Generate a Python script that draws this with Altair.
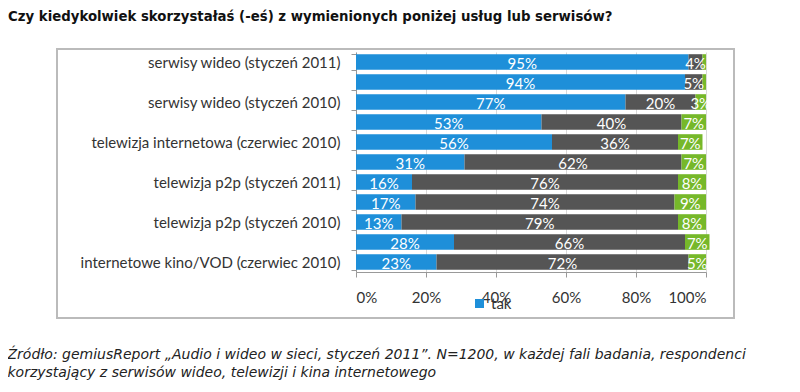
import altair as alt
import pandas as pd

labels = [
    "serwisy wideo (styczeń 2011)", "",
    "serwisy wideo (styczeń 2010)", "",
    "telewizja internetowa (czerwiec 2010)", "",
    "telewizja p2p (styczeń 2011)", "",
    "telewizja p2p (styczeń 2010)", "",
    "internetowe kino/VOD (czerwiec 2010)",
]
tak = [95, 94, 77, 53, 56, 31, 16, 17, 13, 28, 23]
nie = [4, 5, 20, 40, 36, 62, 76, 74, 79, 66, 72]
nie_wiem = [1, 1, 3, 7, 7, 7, 8, 9, 8, 7, 5]
series = ["tak", "nie", "nie wiem"]
colors = ["#1E8FD9", "#555555", "#76B82A"]
x_ticks = [0, 20, 40, 60, 80, 100]

rows = []
for i in range(len(labels)):
    for k, (name, vals) in enumerate(zip(series, [tak, nie, nie_wiem])):
        rows.append({"row": i, "seria": name, "ord": k, "v": vals[i]})
df = pd.DataFrame(rows)

label_js = "[" + ",".join("'" + s + "'" for s in labels) + "]"

base = alt.Chart(df).transform_stack(
    stack="v", groupby=["row"], sort=[alt.SortField("ord")], as_=["x0", "x1"]
).transform_calculate(mid="(datum.x0 + datum.x1) / 2")

y_enc = alt.Y(
    "row:O",
    title=None,
    scale=alt.Scale(paddingInner=0.22, paddingOuter=0.11),
    axis=alt.Axis(
        labelExpr=label_js + "[datum.value]",
        labelFont="Lato", labelFontSize=15, labelColor="#333333", labelLimit=400,
        tickBand="extent", tickSize=5, tickColor="#999999",
        domainColor="#999999", labelPadding=11, grid=False,
    ),
)

bars = base.mark_bar().encode(
    y=y_enc,
    x=alt.X(
        "x0:Q",
        scale=alt.Scale(domain=[0, 100], nice=False),
        axis=alt.Axis(
            values=x_ticks,
            labelExpr="datum.value + '%'",
            labelFont="Lato", labelFontSize=15, labelColor="#333333",
            tickSize=5, tickColor="#999999", domainColor="#999999",
            labelPadding=13, gridColor="#d9d9d9",
            title=["Źródło: gemiusReport „Audio i wideo w sieci, styczeń 2011”. N=1200, w każdej fali badania, respondenci",
                   "korzystający z serwisów wideo, telewizji i kina internetowego"],
            titleX=-349, titleY=75, titleAlign="left", titleBaseline="top",
            titleFont="DejaVu Sans", titleFontSize=14, titleFontStyle="italic",
            titleFontWeight="normal", titleColor="#222222", titleLineHeight=18,
        ),
    ),
    x2="x1:Q",
    color=alt.Color(
        "seria:N",
        scale=alt.Scale(domain=series, range=colors),
        legend=alt.Legend(
            values=["tak"], title=None, orient="none", legendX=116, legendY=244,
            symbolType="square", symbolSize=81, symbolStrokeWidth=0,
            labelFont="Lato", labelFontSize=15, labelColor="#333333", labelOffset=4,
        ),
    ),
)

text = base.transform_filter("datum.v >= 3").mark_text(
    color="white", font="Lato", fontSize=15, baseline="middle", dy=2
).encode(
    y=alt.Y("row:O"),
    x=alt.X("mid:Q"),
    text=alt.Text("label:N"),
).transform_calculate(label="datum.v + '%'")

frame = alt.Chart(pd.DataFrame({"a": [0]})).mark_rect(
    fill=None, stroke="#bbbbbb", strokeWidth=2
).encode(
    x=alt.value(-299), x2=alt.value(378), y=alt.value(-3), y2=alt.value(266)
)

chart = alt.layer(frame, bars, text).properties(
    width=350, height=220,
    padding={"left": 348, "top": 44, "right": 80, "bottom": 110},
    autosize=alt.AutoSizeParams(type="none"),
    title=alt.TitleParams(
        "Czy kiedykolwiek skorzystałaś (-eś) z wymienionych poniżej usług lub serwisów?",
        anchor="start", frame="group", dx=-348, offset=22,
        font="DejaVu Sans", fontSize=13.3, fontWeight="bold", color="#111111",
    ),
).configure_view(stroke=None)

chart.save("out.html", embed_options={"renderer": "svg", "actions": False})
